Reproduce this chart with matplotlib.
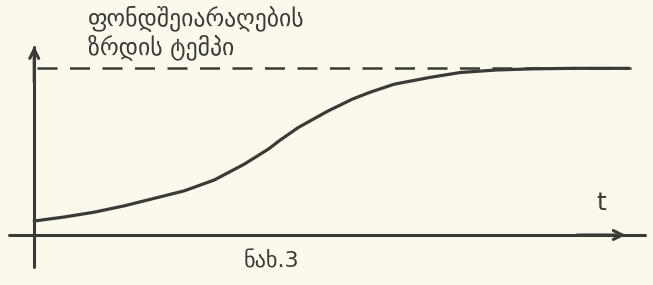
#!/usr/bin/env python3
# Sketch of a sigmoid growth-rate curve with dashed saturation level (ნახ.3)

import matplotlib.pyplot as plt
import numpy as np

# Values (t in arbitrary units, rate relative to saturation level)
t = [0.0, 0.5, 1.0, 1.5, 2.0, 2.5, 3.0, 3.5, 3.9, 4.1, 4.4, 4.65, 4.9, 5.1, 5.3,
     5.6, 6.0, 6.6, 7.1, 7.7, 8.3, 9.0, 9.9]
rate = [0.084, 0.108, 0.137, 0.175, 0.22, 0.265, 0.33, 0.425, 0.515, 0.57, 0.645, 0.695,
        0.745, 0.78, 0.815, 0.857, 0.905, 0.946, 0.975, 0.99, 0.997, 1.0, 1.0]
limit = 1.0

title_lines = ['ფონდშეიარაღების', 'ზრდის ტემპი']
xlabel = 't'
caption = 'ნახ.3'

ink = '#3b3a36'
paper = '#fbf8ec'

fig = plt.figure(figsize=(6.53, 2.85), dpi=100, facecolor=paper)
ax = fig.add_axes((0, 0, 1, 1))
ax.set_facecolor(paper)
ax.set_xlim(-0.57, 10.31)
ax.set_ylim(-0.30, 1.41)
ax.axis('off')

# axes drawn by hand like the sketch
ax.plot([-0.42, 10.17], [0.0, 0.0], color=ink, lw=2.2, solid_capstyle='round')
ax.annotate('', xy=(9.9, 0.0), xytext=(9.0, 0.0),
            arrowprops=dict(arrowstyle='->', color=ink, lw=2.2, mutation_scale=16))
ax.plot([0.0, 0.0], [-0.19, 1.13], color=ink, lw=2.2, solid_capstyle='round')
ax.annotate('', xy=(0.0, 1.15), xytext=(0.0, 0.9),
            arrowprops=dict(arrowstyle='->', color=ink, lw=2.2, mutation_scale=16))

# saturation level
ax.plot([0.05, 9.95], [limit, limit], color=ink, lw=1.8, dashes=(8, 5))

# growth curve
ax.plot(t, rate, color=ink, lw=2.3, solid_capstyle='round', solid_joinstyle='round')

ax.text(0.9, 1.3, title_lines[0], color=ink, fontsize=17, family='DejaVu Sans', va='center', ha='left')
ax.text(0.9, 1.125, title_lines[1], color=ink, fontsize=17, family='DejaVu Sans', va='center', ha='left')
ax.text(9.45, 0.19, xlabel, color=ink, fontsize=18, family='DejaVu Sans', va='center', ha='center')
ax.text(3.95, -0.16, caption, color=ink, fontsize=16, family='DejaVu Sans', va='center', ha='center')

fig.savefig('out.png', dpi=100, facecolor=paper)
